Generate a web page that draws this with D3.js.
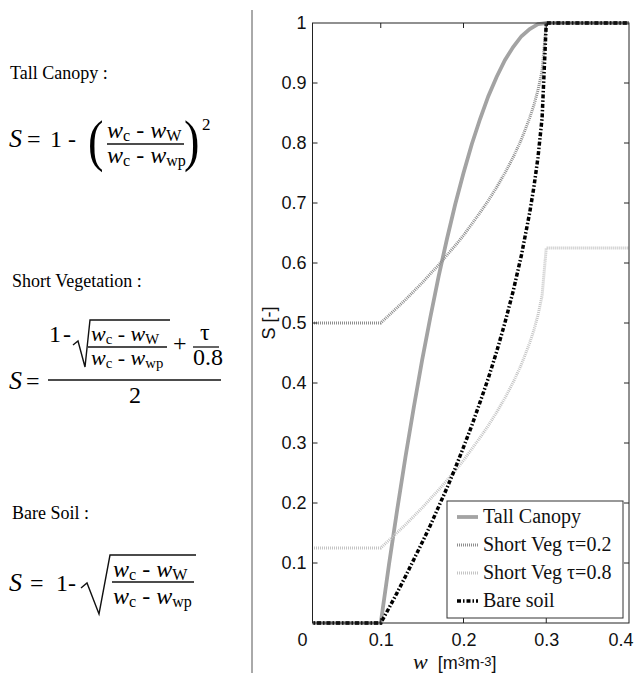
<!DOCTYPE html>
<html>
<head>
<meta charset="utf-8">
<script src="https://cdn.jsdelivr.net/npm/d3@7"></script>
<style>
  body { margin: 0; background: #fff; }
  svg { display: block; }
  text { white-space: pre; }
</style>
</head>
<body>
<div id="chart"></div>
<script>
const width = 636;
const height = 673;

// soil moisture w [m3 m-3] and stress factor S
const wValues    = [0, 0.1, 0.11, 0.12, 0.13, 0.14, 0.15, 0.16, 0.17, 0.18, 0.19, 0.2, 0.21, 0.22, 0.23, 0.24, 0.25, 0.26, 0.27, 0.28, 0.285, 0.29, 0.295, 0.3, 0.4];
const tallCanopy = [0, 0, 0.098, 0.19, 0.278, 0.36, 0.438, 0.51, 0.578, 0.64, 0.698, 0.75, 0.798, 0.84, 0.878, 0.91, 0.938, 0.96, 0.978, 0.99, 0.994, 0.998, 0.999, 1, 1];
const shortVeg02 = [0.5, 0.5, 0.513, 0.526, 0.539, 0.553, 0.567, 0.582, 0.597, 0.613, 0.629, 0.646, 0.665, 0.684, 0.704, 0.726, 0.75, 0.776, 0.806, 0.842, 0.863, 0.888, 0.921, 1, 1];
const shortVeg08 = [0.125, 0.125, 0.138, 0.151, 0.164, 0.178, 0.192, 0.207, 0.222, 0.238, 0.254, 0.271, 0.29, 0.309, 0.329, 0.351, 0.375, 0.401, 0.431, 0.467, 0.488, 0.513, 0.546, 0.625, 0.625];
const bareSoil   = [0, 0, 0.025, 0.051, 0.078, 0.106, 0.134, 0.163, 0.194, 0.225, 0.258, 0.293, 0.329, 0.368, 0.408, 0.452, 0.5, 0.553, 0.613, 0.684, 0.726, 0.776, 0.842, 1, 1];

const legendLabels = ["Tall Canopy", "Short Veg \u03c4=0.2", "Short Veg \u03c4=0.8", "Bare soil"];
const xTicks = [0, 0.1, 0.2, 0.3, 0.4];
const yTicks = [0.1, 0.2, 0.3, 0.4, 0.5, 0.6, 0.7, 0.8, 0.9, 1];

const serif = "'Liberation Serif', 'Times New Roman', serif";
const sans = "'Liberation Sans', Arial, sans-serif";

const svg = d3.select("#chart").append("svg")
    .attr("width", width)
    .attr("height", height)
    .style("background-color", "#fff");

// ---------- left panel: formulas ----------
const left = svg.append("g");

svg.append("line")
    .attr("x1", 252).attr("x2", 252)
    .attr("y1", 10).attr("y2", height)
    .attr("stroke", "#555").attr("stroke-width", 1);

function label(x, yb, str) {
    left.append("text")
        .attr("x", x).attr("y", yb)
        .attr("font-family", serif).attr("font-size", 18)
        .text(str);
}

function plain(x, yb, str, size) {
    return left.append("text")
        .attr("x", x).attr("y", yb)
        .attr("font-family", serif).attr("font-size", size || 24)
        .text(str);
}

// "w_c - w_W" style term
function wTerm(x, yb, sub2, size) {
    size = size || 24;
    const t = left.append("text")
        .attr("x", x).attr("y", yb)
        .attr("font-family", serif).attr("font-size", size);
    t.append("tspan").attr("font-style", "italic").text("w");
    t.append("tspan").attr("font-size", size * 0.67).attr("dy", 3).text("c");
    t.append("tspan").attr("dy", -3).text(" - ");
    t.append("tspan").attr("font-style", "italic").text("w");
    t.append("tspan").attr("font-size", size * 0.67).attr("dy", 3).text(sub2);
}

function bar(x1, x2, yy) {
    left.append("line")
        .attr("x1", x1).attr("x2", x2)
        .attr("y1", yy).attr("y2", yy)
        .attr("stroke", "#111").attr("stroke-width", 1.3);
}

function radical(pts) {
    left.append("path")
        .attr("d", d3.line()(pts))
        .attr("fill", "none")
        .attr("stroke", "#111")
        .attr("stroke-width", 1.4)
        .attr("stroke-linejoin", "miter");
}

function italicS(x, yb) {
    plain(x, yb, "S", 26).attr("font-style", "italic");
}

// Tall canopy
label(10, 79, "Tall Canopy :");
italicS(9, 147);
plain(27, 147, "=");
plain(50, 147, "1");
plain(68, 147, "-");
left.append("text")
    .attr("transform", "translate(88,160) scale(0.8,1)")
    .attr("font-family", serif).attr("font-size", 58)
    .text("(");
wTerm(107, 138, "W");
bar(107, 184, 144);
wTerm(107, 163, "wp");
left.append("text")
    .attr("transform", "translate(184,160) scale(0.8,1)")
    .attr("font-family", serif).attr("font-size", 58)
    .text(")");
plain(202, 130, "2", 17);

// Short vegetation
label(12, 287, "Short Vegetation :");
italicS(9, 389);
plain(26, 389, "=");
bar(48, 221, 380);
plain(49, 342, "1");
plain(63, 342, "-");
radical([[73, 345], [78, 341], [85, 367], [90, 320], [170, 320]]);
wTerm(91, 341, "W", 22);
bar(88, 167, 347);
wTerm(91, 365, "wp", 22);
plain(173, 351, "+");
plain(200, 340, "\u03c4");
bar(193, 219, 347);
plain(193, 365, "0.8");
plain(129, 403, "2");

// Bare soil
label(12, 519, "Bare Soil :");
italicS(9, 591);
plain(30, 591, "=");
plain(56, 591, "1");
plain(68, 591, "-");
radical([[81, 588], [87, 583], [99, 614], [110, 555], [196, 555]]);
wTerm(113, 577, "W");
bar(112, 194, 582);
wTerm(113, 604, "wp");

// ---------- right panel: chart ----------
const plot = { left: 312.5, right: 629, top: 23, bottom: 623 };

const x = d3.scaleLinear().domain([0, 0.4]).range([298, 629]);
const y = d3.scaleLinear().domain([0, 1]).range([plot.bottom, plot.top]);

const series = [
    { name: legendLabels[0], values: tallCanopy, color: "#a3a3a3", width: 3.8, dash: null },
    { name: legendLabels[1], values: shortVeg02, color: "#8e8e8e", width: 3, dash: "1,1" },
    { name: legendLabels[2], values: shortVeg08, color: "#c4c4c4", width: 3, dash: "1,1" },
    { name: legendLabels[3], values: bareSoil, color: "#000", width: 3.5, dash: "4,2,1.5,2" }
];

svg.append("clipPath").attr("id", "plot-clip")
  .append("rect")
    .attr("x", plot.left).attr("y", plot.top - 3)
    .attr("width", plot.right - plot.left).attr("height", plot.bottom - plot.top + 6);

const line = d3.line()
    .x((d, i) => x(wValues[i]))
    .y(d => y(d));

const curves = svg.append("g").attr("clip-path", "url(#plot-clip)");
curves.selectAll("path")
    .data(series)
    .enter().append("path")
    .attr("d", d => line(d.values))
    .attr("fill", "none")
    .attr("stroke", d => d.color)
    .attr("stroke-width", d => d.width)
    .attr("stroke-dasharray", d => d.dash);

// frame
svg.append("rect")
    .attr("x", plot.left).attr("y", plot.top)
    .attr("width", plot.right - plot.left).attr("height", plot.bottom - plot.top)
    .attr("fill", "none").attr("stroke", "#222").attr("stroke-width", 1);

// inward tick marks on all sides
const tickLen = 5;
const ticks = svg.append("g").attr("stroke", "#222").attr("stroke-width", 1);
xTicks.filter(v => x(v) > plot.left + 1 && x(v) < plot.right - 1).forEach(v => {
    ticks.append("line").attr("x1", x(v)).attr("x2", x(v)).attr("y1", plot.top).attr("y2", plot.top + tickLen);
    ticks.append("line").attr("x1", x(v)).attr("x2", x(v)).attr("y1", plot.bottom).attr("y2", plot.bottom - tickLen);
});
yTicks.filter(v => y(v) > plot.top + 1).forEach(v => {
    ticks.append("line").attr("x1", plot.left).attr("x2", plot.left + tickLen).attr("y1", y(v)).attr("y2", y(v));
    ticks.append("line").attr("x1", plot.right).attr("x2", plot.right - tickLen).attr("y1", y(v)).attr("y2", y(v));
});

// tick labels
const xAxis = svg.append("g")
    .attr("transform", `translate(0,${plot.bottom})`)
    .call(d3.axisBottom(x).tickValues(xTicks).tickSize(0).tickPadding(10).tickFormat(d => d));
const yAxis = svg.append("g")
    .attr("transform", `translate(${plot.left},0)`)
    .call(d3.axisLeft(y).tickValues(yTicks).tickSize(0).tickPadding(6).tickFormat(d => d));
[xAxis, yAxis].forEach(a => {
    a.select(".domain").remove();
    a.attr("font-family", sans).attr("font-size", 18);
    a.selectAll("text").attr("fill", "#111");
});
// first label sits a little right, last one must stay inside the picture
xAxis.selectAll(".tick text").filter(d => d === 0).attr("dx", 4);
xAxis.selectAll(".tick text").filter(d => d === 0.4).attr("text-anchor", "end").attr("x", 4);

// axis titles
svg.append("text")
    .attr("transform", `translate(275,${(plot.top + plot.bottom) / 2}) rotate(-90)`)
    .attr("text-anchor", "middle")
    .attr("font-family", sans).attr("font-size", 18)
    .attr("fill", "#111")
    .text("S [-]");

const xTitle = svg.append("text")
    .attr("x", 413).attr("y", 669)
    .attr("fill", "#111");
xTitle.append("tspan").attr("font-family", serif).attr("font-style", "italic").attr("font-size", 22).text("w");
xTitle.append("tspan").attr("font-family", sans).attr("font-size", 18).text("  [m");
xTitle.append("tspan").attr("font-family", sans).attr("font-size", 13).attr("dy", -3).text("3");
xTitle.append("tspan").attr("font-family", sans).attr("font-size", 18).attr("dy", 3).text("m");
xTitle.append("tspan").attr("font-family", sans).attr("font-size", 13).attr("dy", -3).text("-3");
xTitle.append("tspan").attr("font-family", sans).attr("font-size", 18).attr("dy", 3).text("]");

// legend
const legend = svg.append("g").attr("transform", "translate(447,501)");
legend.append("rect")
    .attr("width", 176).attr("height", 117)
    .attr("fill", "#fff").attr("stroke", "#333").attr("stroke-width", 1);

const rows = legend.selectAll("g.row")
    .data(series)
    .enter().append("g")
    .attr("class", "row")
    .attr("transform", (d, i) => `translate(0,${22 + i * 28})`);
rows.append("line")
    .attr("x1", 10).attr("x2", 31)
    .attr("y1", -6).attr("y2", -6)
    .attr("stroke", d => d.color)
    .attr("stroke-width", d => d.width)
    .attr("stroke-dasharray", d => d.dash);
rows.append("text")
    .attr("x", 36).attr("y", 0)
    .attr("font-family", serif).attr("font-size", 20)
    .attr("fill", "#111")
    .text(d => d.name);
</script>
</body>
</html>
